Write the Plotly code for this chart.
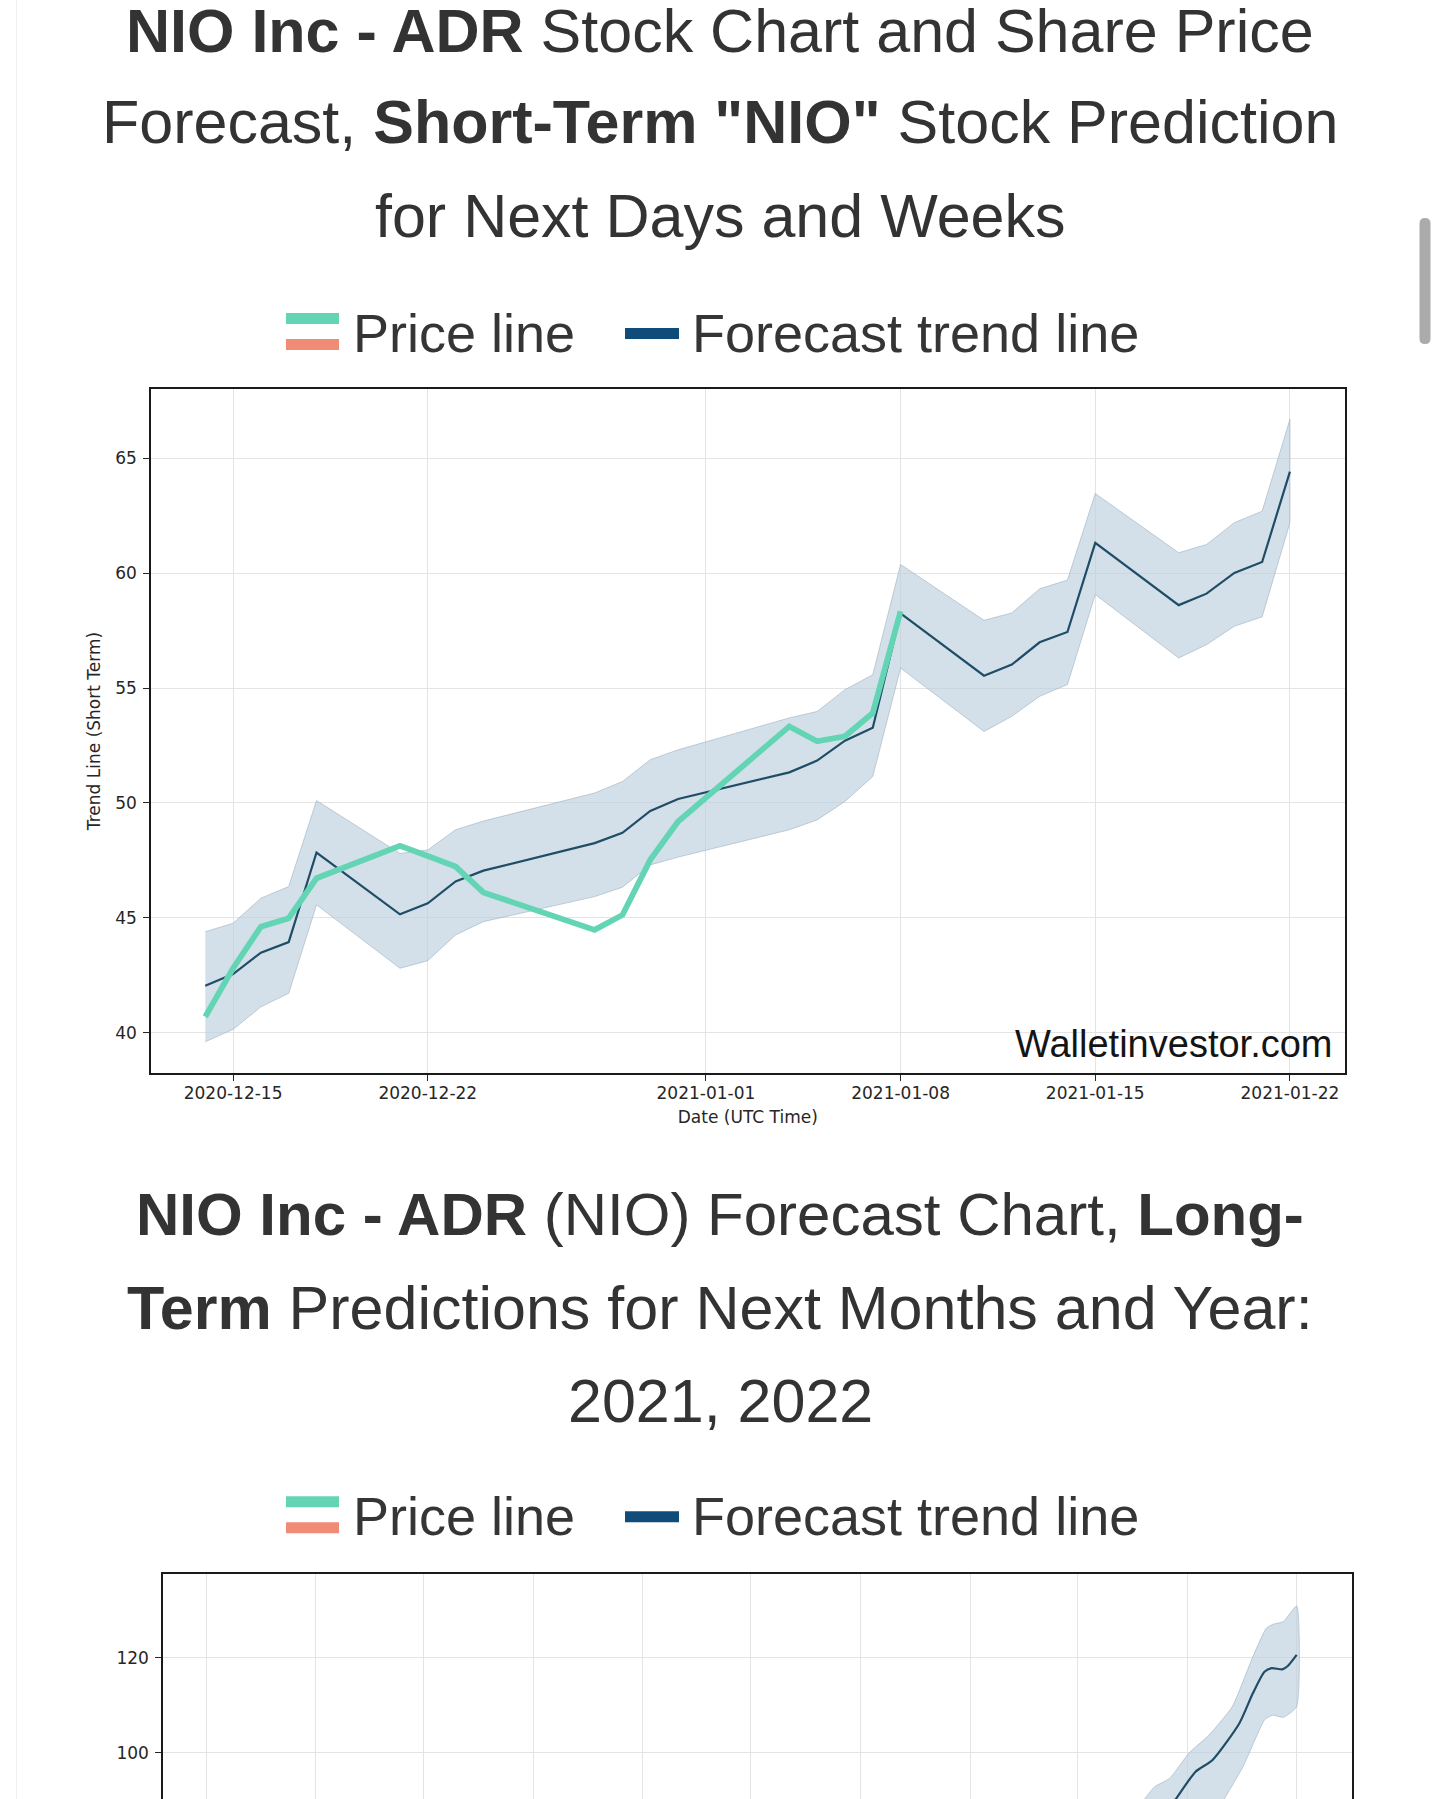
"""NIO short-term / long-term forecast page, rebuilt as one Plotly figure."""
import plotly.graph_objects as go

W, H = 1440, 1799

# ---- short-term chart (trading days) ----
fc_dates = [
    "2020-12-14", "2020-12-15", "2020-12-16", "2020-12-17", "2020-12-18",
    "2020-12-21", "2020-12-22", "2020-12-23", "2020-12-24",
    "2020-12-28", "2020-12-29", "2020-12-30", "2020-12-31",
    "2021-01-04", "2021-01-05", "2021-01-06", "2021-01-07", "2021-01-08",
    "2021-01-11", "2021-01-12", "2021-01-13", "2021-01-14", "2021-01-15",
    "2021-01-18", "2021-01-19", "2021-01-20", "2021-01-21", "2021-01-22",
]
fc_trend = [
    42.04, 42.55, 43.48, 43.94, 47.84,
    45.15, 45.63, 46.58, 47.05,
    48.25, 48.70, 49.65, 50.17,
    51.33, 51.84, 52.71, 53.27, 58.25,
    55.54, 56.02, 56.99, 57.44, 61.32,
    58.61, 59.11, 60.01, 60.49, 64.42,
]
fc_upper = [
    44.39, 44.76, 45.85, 46.36, 50.10,
    47.80, 47.95, 48.83, 49.21,
    50.43, 50.93, 51.88, 52.31,
    53.70, 53.98, 54.93, 55.58, 60.38,
    57.95, 58.27, 59.32, 59.70, 63.47,
    60.89, 61.25, 62.20, 62.70, 66.70,
]
fc_lower = [
    39.60, 40.14, 41.12, 41.71, 45.56,
    42.80, 43.13, 44.25, 44.83,
    45.92, 46.33, 47.30, 47.64,
    48.83, 49.26, 50.06, 51.15, 55.87,
    53.11, 53.77, 54.64, 55.15, 59.07,
    56.31, 56.89, 57.69, 58.10, 62.20,
]
price_dates = fc_dates[:18]
price = [
    40.69, 42.80, 44.61, 44.98, 46.72,
    48.13, 47.69, 47.23, 46.10,
    44.47, 45.12, 47.52, 49.19,
    53.33, 52.68, 52.90, 53.91, 58.34,
]
st_ticks = ["2020-12-15", "2020-12-22", "2021-01-01", "2021-01-08", "2021-01-15", "2021-01-22"]
st_yticks = [40, 45, 50, 55, 60, 65]

# ---- long-term chart (only its top part is on screen) ----
lt_dates = ["2021-08-14", "2021-08-19", "2021-09-10", "2021-09-29", "2021-10-29", "2021-11-13",
            "2021-11-26", "2021-12-04", "2021-12-16", "2021-12-22", "2022-01-01"]
lt_trend = [89.0, 90.25, 96.0, 98.46, 106.2, 112.5, 117.05, 117.8, 117.55, 118.25, 120.6]
lt_up_dates = ["2021-07-10", "2021-07-15", "2021-07-26", "2021-08-12", "2021-09-03", "2021-09-25",
               "2021-10-21", "2021-11-13", "2021-11-28", "2021-12-05", "2021-12-17", "2022-01-01"]
lt_upper = [89.1, 90.25, 92.8, 94.6, 100.0, 103.7, 109.7, 120.2, 126.2, 127.0, 127.6, 130.9]
lt_lo_dates = ["2021-10-08", "2021-10-12", "2021-11-02", "2021-11-17", "2021-11-26",
               "2021-12-05", "2021-12-17", "2022-01-01"]
lt_lower = [89.0, 90.25, 97.05, 103.4, 106.9, 107.9, 107.45, 109.7]
lt_ticks = ["2018-09-01", "2019-01-01", "2019-05-01", "2019-09-01", "2020-01-01", "2020-05-01",
            "2020-09-01", "2021-01-01", "2021-05-01", "2021-09-01", "2022-01-01"]
lt_yticks = [100, 120]

TEAL, SALMON, NAVY, LEGNAVY = "#63d5b4", "#f08c76", "#1f4d68", "#0f4c7a"
BAND, BAND_EDGE = "rgba(189,208,221,0.65)", "rgba(150,172,190,0.55)"
TITLE_FONT = "Liberation Sans, Arial, sans-serif"
AX_FONT = dict(family="DejaVu Sans, sans-serif", size=17, color="#262626")


def px(x):
    return x / W


def py(y):
    return 1 - y / H


fig = go.Figure()

# short-term: band, trend, price
fig.add_trace(go.Scatter(x=fc_dates + fc_dates[::-1], y=fc_upper + fc_lower[::-1], fill="toself",
                         fillcolor=BAND, line=dict(color=BAND_EDGE, width=1), mode="lines",
                         xaxis="x", yaxis="y"))
fig.add_trace(go.Scatter(x=fc_dates, y=fc_trend, mode="lines", line=dict(color=NAVY, width=2.2),
                         xaxis="x", yaxis="y"))
fig.add_trace(go.Scatter(x=price_dates, y=price, mode="lines", line=dict(color=TEAL, width=5.8),
                         xaxis="x", yaxis="y"))

# long-term: band and trend
fig.add_trace(go.Scatter(x=lt_up_dates + lt_lo_dates[::-1], y=lt_upper + lt_lower[::-1], fill="toself",
                         fillcolor=BAND, line=dict(color=BAND_EDGE, width=1, shape="spline", smoothing=0.5),
                         mode="lines", xaxis="x2", yaxis="y2"))
fig.add_trace(go.Scatter(x=lt_dates, y=lt_trend, mode="lines",
                         line=dict(color=NAVY, width=2.2, shape="spline", smoothing=0.6),
                         xaxis="x2", yaxis="y2"))

frame = dict(showline=True, linecolor="#1a1a1a", linewidth=1.5, showgrid=True,
             gridcolor="#e4e4e4", gridwidth=1.3, zeroline=False, tickfont=AX_FONT,
             ticks="outside", ticklen=6, tickcolor="#262626", tickwidth=1.2)

fig.update_layout(
    width=W, height=H, margin=dict(l=0, r=0, t=0, b=0), showlegend=False,
    paper_bgcolor="white", plot_bgcolor="white",
    xaxis=dict(frame, domain=[px(151), px(1344.6)], anchor="y", type="date", mirror=True,
               range=["2020-12-12 01:10", "2021-01-23 23:10"],
               tickvals=st_ticks, ticktext=st_ticks, ticklabelstandoff=-2,
               title=dict(text="Date (UTC Time)", font=AX_FONT, standoff=9)),
    yaxis=dict(frame, domain=[py(1073), py(389)], anchor="x", mirror=True,
               range=[38.24, 68.02], tickvals=st_yticks, ticklabelstandoff=3,
               title=dict(text="Trend Line (Short Term)", font=AX_FONT, standoff=10)),
    xaxis2=dict(frame, domain=[px(163), px(1352)], anchor="y2", type="date", side="top",
                mirror=False, ticks="", showticklabels=False,
                range=["2018-07-14 07:00", "2022-03-03 19:00"], tickvals=lt_ticks),
    yaxis2=dict(frame, domain=[0, py(1574.3)], anchor="x2", mirror=True,
                range=[90.25, 137.56], tickvals=lt_yticks, ticklabelstandoff=3),
)

# page titles, one annotation per line (baseline ~ centre + 0.35 em)
titles = [
    ("<b>NIO Inc - ADR</b> Stock Chart and Share Price", 52, 61),
    ("Forecast, <b>Short-Term \"NIO\"</b> Stock Prediction", 143.3, 61),
    ("for Next Days and Weeks", 237.3, 61),
    ("<b>NIO Inc - ADR</b> (NIO) Forecast Chart, <b>Long-</b>", 1235.5, 60),
    ("<b>Term</b> Predictions for Next Months and Year:", 1329, 61),
    ("2021, 2022", 1422.5, 61),
]
for text, base, size in titles:
    fig.add_annotation(text=text, xref="paper", yref="paper", x=0.5, y=py(base - 0.347 * size),
                       xanchor="center", yanchor="middle", showarrow=False,
                       font=dict(family=TITLE_FONT, size=size, color="#333333"))

# custom legends above each chart
for dy in (0, 1183.3):
    fig.add_shape(type="rect", xref="paper", yref="paper", x0=px(286), x1=px(339),
                  y0=py(313 + dy), y1=py(324 + dy), fillcolor=TEAL, line_width=0)
    fig.add_shape(type="rect", xref="paper", yref="paper", x0=px(286), x1=px(339),
                  y0=py(339 + dy), y1=py(350 + dy), fillcolor=SALMON, line_width=0)
    fig.add_shape(type="rect", xref="paper", yref="paper", x0=px(625), x1=px(679),
                  y0=py(328 + dy), y1=py(339 + dy), fillcolor=LEGNAVY, line_width=0)
    for label, x0 in (("Price line", 351), ("Forecast trend line", 690)):
        fig.add_annotation(text=label, xref="paper", yref="paper", x=px(x0), y=py(351.7 + dy - 18.7),
                           xanchor="left", yanchor="middle", showarrow=False,
                           font=dict(family=TITLE_FONT, size=54, color="#353535"))

# watermark inside the short-term chart
fig.add_annotation(text="Walletinvestor.com", xref="paper", yref="paper", x=px(1334), y=py(1043.5),
                   xanchor="right", yanchor="middle", showarrow=False,
                   font=dict(family=TITLE_FONT, size=38, color="#141414"))

# page edge and the phone scrollbar
fig.add_shape(type="line", xref="paper", yref="paper", x0=px(16.5), x1=px(16.5), y0=0, y1=1,
              line=dict(color="#f0f0f0", width=1))
x0s, x1s, xm, r = px(1419.5), px(1430.5), px(1425), 5.5
fig.add_shape(type="path", xref="paper", yref="paper", fillcolor="#ababab", line_width=0,
              path=(f"M {x0s},{py(218 + r)} Q {x0s},{py(218)} {xm},{py(218)} Q {x1s},{py(218)} {x1s},{py(218 + r)} "
                    f"L {x1s},{py(344 - r)} Q {x1s},{py(344)} {xm},{py(344)} Q {x0s},{py(344)} {x0s},{py(344 - r)} Z"))

fig.write_html("out.html", config={"displayModeBar": False},
               post_script="document.body.style.margin='0px';")
